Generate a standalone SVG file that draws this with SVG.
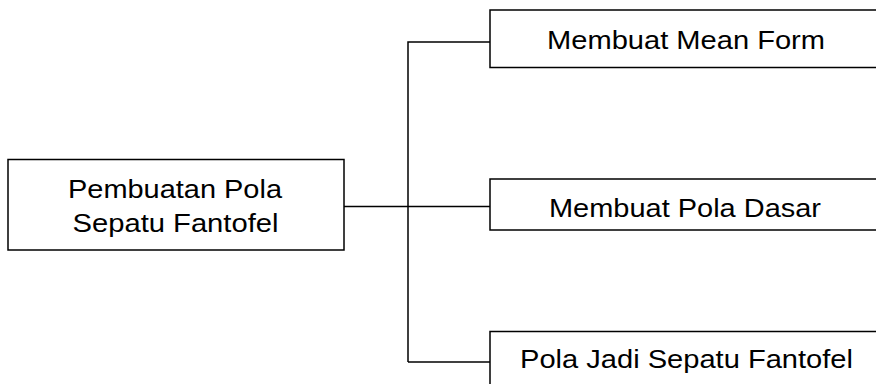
<svg xmlns="http://www.w3.org/2000/svg" width="876" height="384" viewBox="0 0 876 384">
<style>
.box{fill:#fff;stroke:#000;stroke-width:1.5}
.ln{fill:none;stroke:#000;stroke-width:1.5}
text{font-family:"Liberation Sans",Arial,sans-serif;font-size:26px;fill:#000;text-anchor:middle}
</style>
<rect width="876" height="384" fill="#fff"/>
<g id="connectors">
<path class="ln" d="M344,206.5 H490"/>
<path class="ln" d="M408,362 V42 H490"/>
<path class="ln" d="M408,362 H490"/>
</g>
<g id="root">
<rect class="box" x="8" y="159.5" width="336" height="90.5"/>
<text x="175" y="198" textLength="214" lengthAdjust="spacingAndGlyphs">Pembuatan Pola</text>
<text x="175.5" y="232" textLength="206" lengthAdjust="spacingAndGlyphs">Sepatu Fantofel</text>
</g>
<g id="n1">
<rect class="box" x="490" y="10" width="400" height="57.5"/>
<text x="686" y="48.5" textLength="278" lengthAdjust="spacingAndGlyphs">Membuat Mean Form</text>
</g>
<g id="n2">
<rect class="box" x="490" y="179" width="400" height="51"/>
<text x="685" y="217" textLength="272" lengthAdjust="spacingAndGlyphs">Membuat Pola Dasar</text>
</g>
<g id="n3">
<rect class="box" x="490" y="331.5" width="400" height="70"/>
<text x="686.5" y="368" textLength="333" lengthAdjust="spacingAndGlyphs">Pola Jadi Sepatu Fantofel</text>
</g>
</svg>
